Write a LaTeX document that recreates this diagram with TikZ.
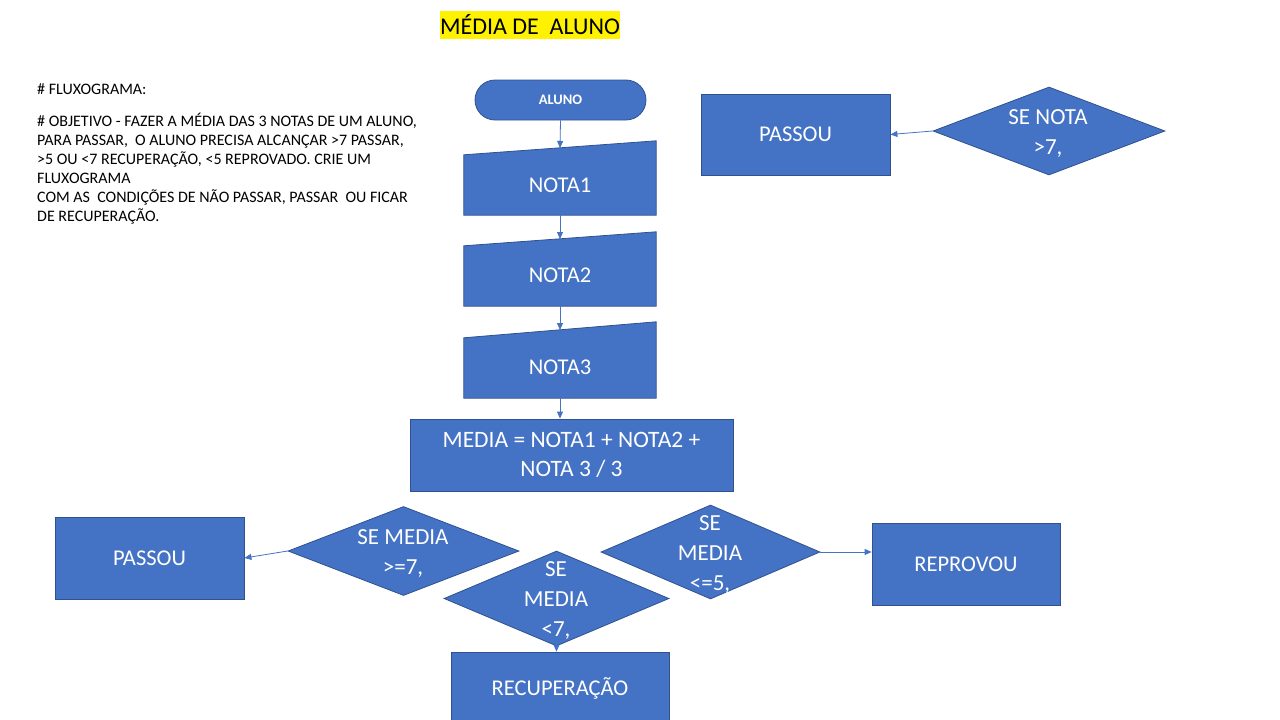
\documentclass[tikz,border=0pt]{standalone}
\usepackage{fontspec}
\setmainfont{Carlito}
\usetikzlibrary{shapes.geometric,arrows.meta}
\definecolor{ofblue}{HTML}{4472C4}
\definecolor{ofedge}{HTML}{2F528F}
\tikzset{
  box/.style={rectangle, fill=ofblue, draw=ofedge, line width=0.8pt, text=white,
    font=\fontsize{22.5}{27}\selectfont, inner sep=0pt, align=center},
  dia/.style={diamond, fill=ofblue, draw=ofedge, line width=0.8pt, inner sep=0pt},
  lbl/.style={text=white, font=\fontsize{23}{30}\selectfont, align=center, inner sep=0pt},
  inbox/.style={fill=ofblue, draw=ofedge, line width=0.8pt},
  arr/.style={draw=ofblue, line width=0.8pt, -{Triangle[length=7pt,width=6pt]}},
}
\begin{document}
\begin{tikzpicture}[x=1pt,y=-1pt]
\useasboundingbox (0,0) rectangle (1280,720);
\clip (0,0) rectangle (1280,720);

% title
\node[fill=yellow, inner sep=0pt, minimum width=180, minimum height=28,
  font=\fontsize{24}{28}\selectfont] (title) at (530,25) {MÉDIA DE\ \ ALUNO};

% description
\node[anchor=north west, align=left, inner sep=0pt,
  font=\fontsize{16}{19}\selectfont] (desc) at (37,83)
{\# FLUXOGRAMA:\\[13pt]
\# OBJETIVO - FAZER A MÉDIA DAS 3 NOTAS DE UM ALUNO,\\
PARA PASSAR,\ \ O ALUNO PRECISA ALCANÇAR >7 PASSAR,\\
>5 OU <7 RECUPERAÇÃO, <5 REPROVADO. CRIE UM\\
FLUXOGRAMA\\
COM AS\ \ CONDIÇÕES DE NÃO PASSAR, PASSAR\ \ OU FICAR\\
DE RECUPERAÇÃO.};

% start
\node[box, rounded corners=20pt, minimum width=171, minimum height=40,
  font=\bfseries\fontsize{14.5}{16}\selectfont] (aluno) at (560.5,100) {ALUNO};

% manual inputs
\node[minimum width=192, minimum height=74, inner sep=0pt] (n1) at (560,178) {};
\fill[inbox] ([yshift=-14pt]n1.north west) -- (n1.north east) -- (n1.south east) -- (n1.south west) -- cycle;
\node[lbl, font=\fontsize{22.5}{27}\selectfont] (t1) at (560,185) {NOTA1};
\coordinate (n1in) at (560,148);

\node[minimum width=192, minimum height=74, inner sep=0pt] (n2) at (560,269) {};
\fill[inbox] ([yshift=-14pt]n2.north west) -- (n2.north east) -- (n2.south east) -- (n2.south west) -- cycle;
\node[lbl, font=\fontsize{22.5}{27}\selectfont] (t2) at (560,275) {NOTA2};
\coordinate (n2in) at (560,239);

\node[minimum width=192, minimum height=76, inner sep=0pt] (n3) at (560,360) {};
\fill[inbox] ([yshift=-16pt]n3.north west) -- (n3.north east) -- (n3.south east) -- (n3.south west) -- cycle;
\node[lbl, font=\fontsize{22.5}{27}\selectfont] (t3) at (560,367) {NOTA3};
\coordinate (n3in) at (560,330);

% media
\node[box, minimum width=323, minimum height=72,
  font=\fontsize{23.5}{29}\selectfont] (media) at (571.5,455) {MEDIA = NOTA1 + NOTA2 +\\NOTA 3 / 3};

% top right
\node[box, minimum width=189, minimum height=81] (p1) at (795.5,134.5) {PASSOU};
\node[dia, minimum width=232, minimum height=88] (d1) at (1049,131) {};
\node[lbl] (d1t) at (1048,134) {SE NOTA\\>7,};

% bottom
\node[box, minimum width=189, minimum height=82] (p2) at (149.5,558) {PASSOU};
\node[dia, minimum width=231, minimum height=89] (dA) at (403.5,551) {};
\node[lbl] (dAt) at (403,554) {SE MEDIA\\>=7,};
\node[dia, minimum width=225, minimum height=95] (dB) at (556.5,598.5) {};
\node[lbl] (dBt) at (556,601) {SE\\MEDIA\\<7,};
\node[dia, minimum width=219, minimum height=94] (dC) at (710.5,552) {};
\node[lbl] (dCt) at (710,555) {SE\\MEDIA\\<=5,};
\node[box, minimum width=218, minimum height=72] (rec) at (560,688) {RECUPERAÇÃO};
\node[box, minimum width=188, minimum height=82] (rep) at (966,564) {REPROVOU};

% connectors
\draw[arr] (aluno.south) -- (n1in);
\draw[arr] (n1.south) -- (n2in);
\draw[arr] (n2.south) -- (n3in);
\draw[arr] (n3.south) -- (n3.south |- media.north);
\draw[arr] (d1.west) -- (p1.east);
\draw[arr] (dA.west) -- (p2.east);
\draw[arr] (dB.south) -- (dB.south |- rec.north);
\draw[arr] (dC.east) -- (rep.west |- dC.east);
\end{tikzpicture}
\end{document}
